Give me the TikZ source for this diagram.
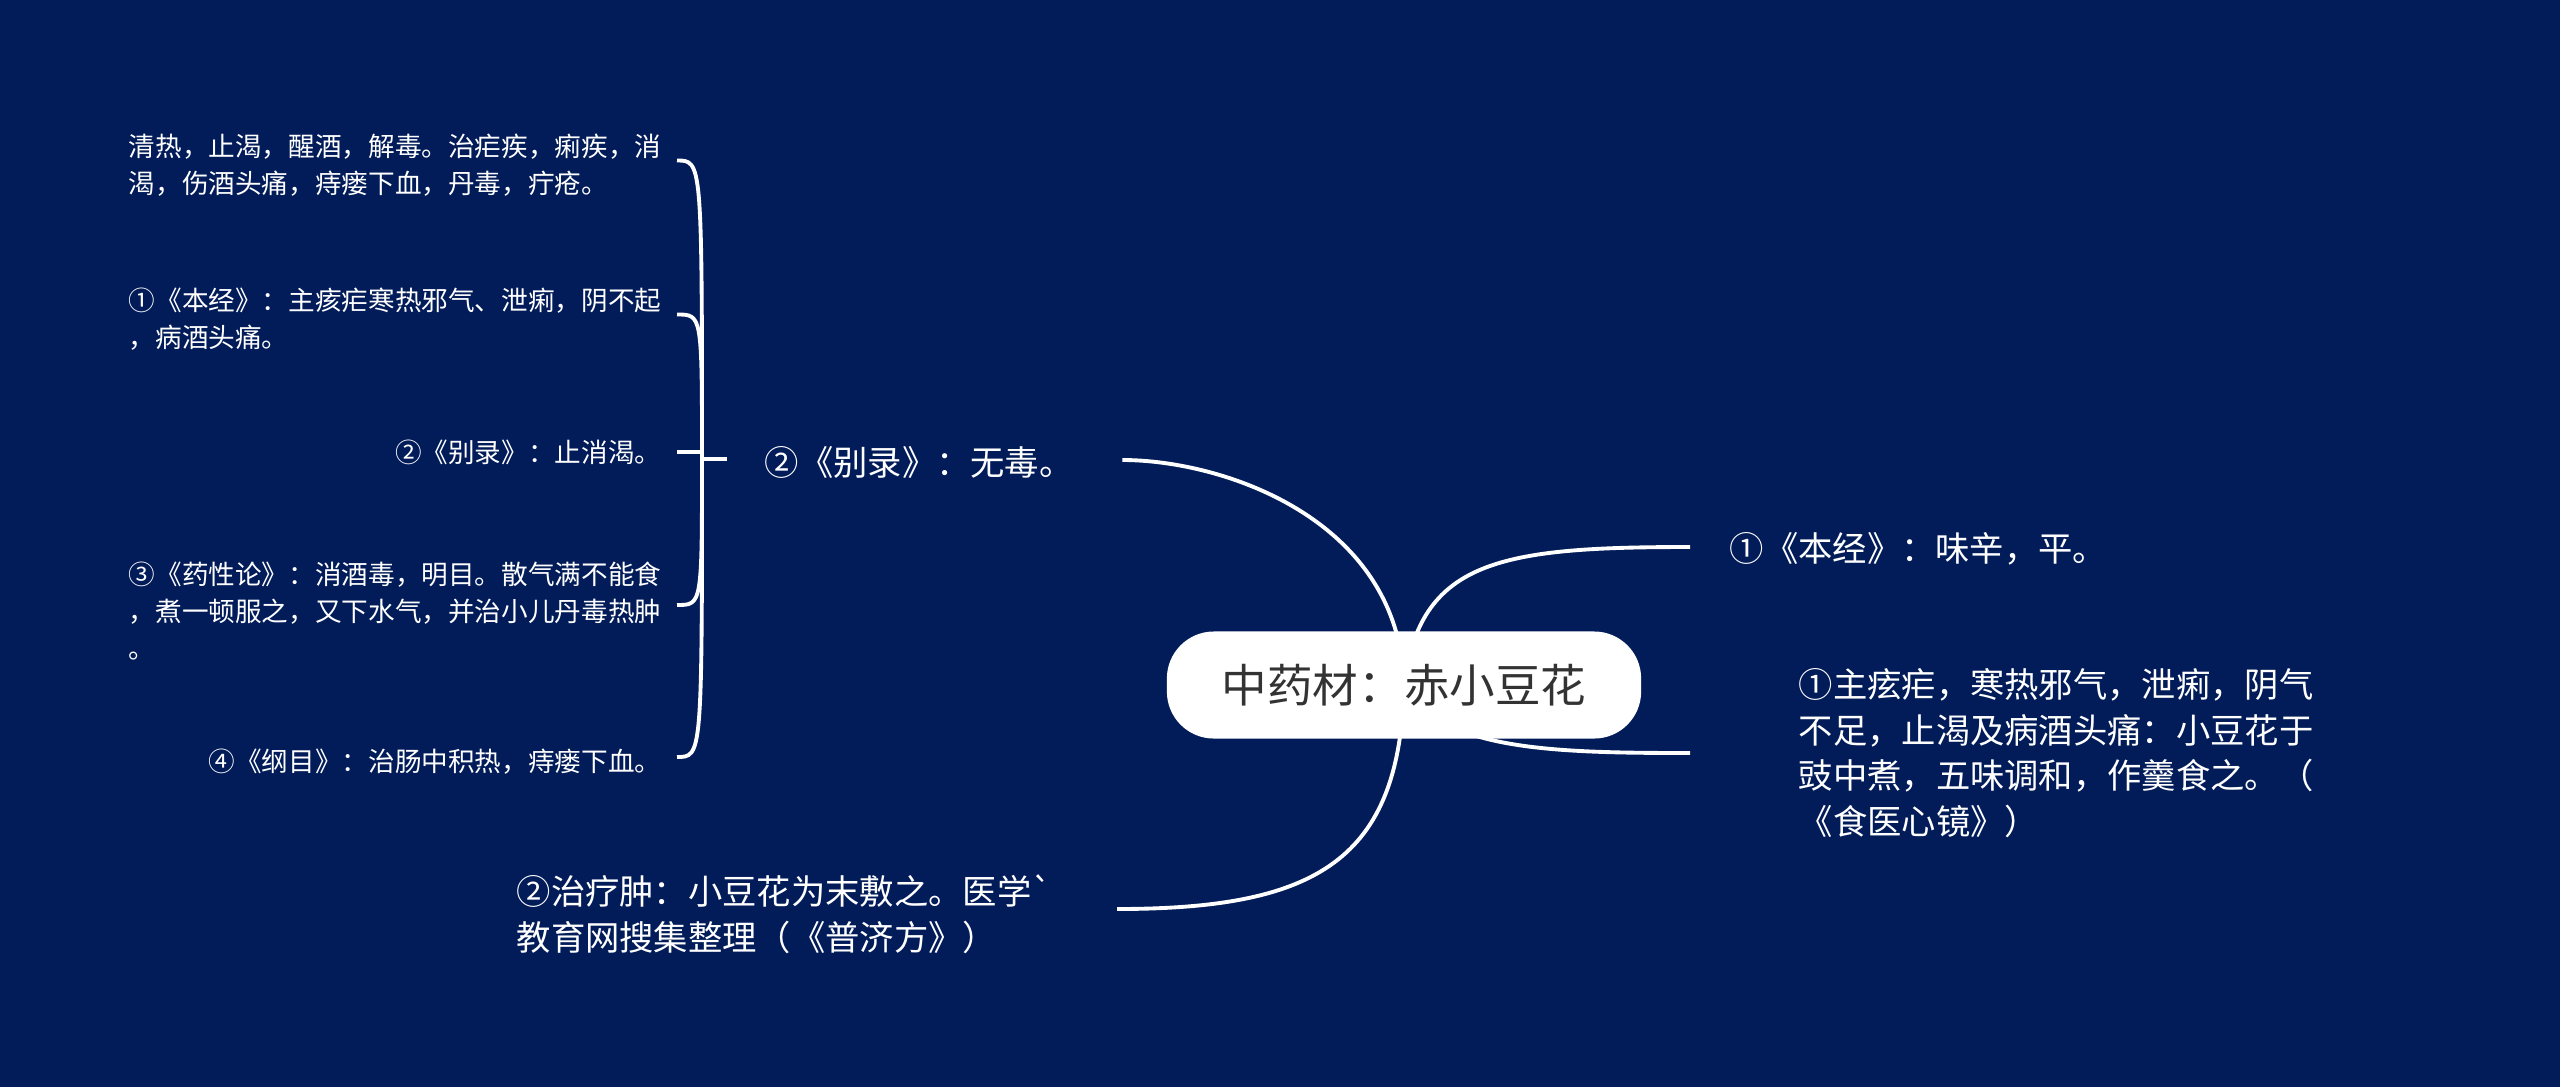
\documentclass[tikz,border=0pt]{standalone}
\usepackage{fontspec}
\newfontfamily\cjk{Noto Sans CJK SC}
\usetikzlibrary{calc}
\definecolor{bgblue}{RGB}{2,28,89}
\definecolor{ctext}{RGB}{51,51,51}
\pgfdeclarelayer{bg}
\pgfdeclarelayer{edges}
\pgfsetlayers{bg,edges,main}
\tikzset{
  lvtwo/.style={text=white, inner sep=0pt, align=left, font=\cjk\fontsize{7.57pt}{10.53pt}\selectfont},
  lvone/.style={text=white, inner sep=0pt, align=left, font=\cjk\fontsize{9.76pt}{12.95pt}\selectfont},
  rootbox/.style={fill=white, rounded corners=0.47cm, minimum width=4.74cm, minimum height=1.07cm, text=ctext, inner sep=0pt, font=\cjk\fontsize{12.95pt}{15pt}\selectfont},
  conn/.style={draw=white, line width=1.1pt},
}
\begin{document}
\begin{tikzpicture}[x=0.01cm,y=-0.01cm]
\begin{pgfonlayer}{bg}
\fill[bgblue] (0,0) rectangle (2560,1087);
\end{pgfonlayer}
% root
\node[rootbox] (c) at (1404,685) {中药材：赤小豆花};
% level one
\node[lvone, anchor=west] (p2) at (764,462) {②《别录》：无毒。};
\node[lvone, anchor=west] (r1) at (1729,549) {①《本经》：味辛，平。};
\node[lvone, anchor=west] (r2) at (1798,753) {①主痃疟，寒热邪气，泄痢，阴气\\不足，止渴及病酒头痛：小豆花于\\豉中煮，五味调和，作羹食之。（\\《食医心镜》）};
\node[lvone, anchor=west] (b2) at (516,914) {②治疗肿：小豆花为末敷之。医学`\\教育网搜集整理（《普济方》）};
% level two
\node[lvtwo, anchor=east] (l1) at (662,165.5) {清热，止渴，醒酒，解毒。治疟疾，痢疾，消\\渴，伤酒头痛，痔瘘下血，丹毒，疔疮。};
\node[lvtwo, anchor=east] (l2) at (662,319.5) {①《本经》：主痎疟寒热邪气、泄痢，阴不起\\，病酒头痛。};
\node[lvtwo, anchor=east] (l3) at (662,452) {②《别录》：止消渴。};
\node[lvtwo, anchor=east] (l4) at (662,611) {③《药性论》：消酒毒，明目。散气满不能食\\，煮一顿服之，又下水气，并治小儿丹毒热肿\\。};
\node[lvtwo, anchor=east] (l5) at (662,762) {④《纲目》：治肠中积热，痔瘘下血。};
% connectors
\begin{pgfonlayer}{edges}
\coordinate (pl) at ($(p2.west)+(-37,-3)$);
\coordinate (sp) at ($(p2.west)+(-62,-3)$);
\coordinate (pr) at ($(p2.east)+(48,-2)$);
\coordinate (h1) at ($(l1.east)+(15,-5)$);
\coordinate (h2) at ($(l2.east)+(15,-5)$);
\coordinate (h3) at ($(l3.east)+(15,0)$);
\coordinate (h4) at ($(l4.east)+(15,-6)$);
\coordinate (h5) at ($(l5.east)+(15,-5)$);
\coordinate (hr1) at ($(r1.west)+(-39,-2)$);
\coordinate (hr2) at ($(r2.west)+(-108,0)$);
\coordinate (hb2) at ($(b2.west)+(601,-5)$);
\draw[conn] (c.center) .. controls +(-4,-165) and +(102,0) .. (pr);
\draw[conn] (c.center) .. controls +(16,-125) and +(-190,0) .. (hr1);
\draw[conn] (c.center) .. controls +(36,65) and +(-140,0) .. (hr2);
\draw[conn] (c.center) .. controls +(-4,175) and +(200,0) .. (hb2);
\draw[conn] (pl) -- (sp);
\draw[conn] (sp) .. controls (sp |- h1) and (sp |- h1) .. (h1);
\draw[conn] (sp) .. controls (sp |- h2) and (sp |- h2) .. (h2);
\draw[conn] (sp) -- (sp |- h3) -- (h3);
\draw[conn] (sp) .. controls (sp |- h4) and (sp |- h4) .. (h4);
\draw[conn] (sp) .. controls (sp |- h5) and (sp |- h5) .. (h5);
\end{pgfonlayer}
\end{tikzpicture}
\end{document}
